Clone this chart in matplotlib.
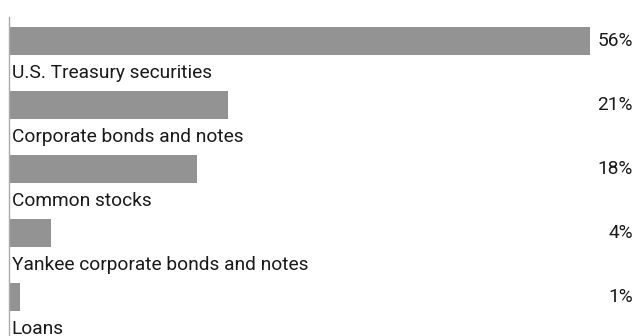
import matplotlib
matplotlib.use('Agg')
import matplotlib.pyplot as plt
import matplotlib.transforms as mtransforms

categories = ['U.S. Treasury securities', 'Corporate bonds and notes', 'Common stocks',
              'Yankee corporate bonds and notes', 'Loans']
values = [56, 21, 18, 4, 1]
labels = ['56%', '21%', '18%', '4%', '1%']

plt.rcParams['font.family'] = ['Roboto', 'DejaVu Sans']

W, H = 639, 336
fig = plt.figure(figsize=(W / 100, H / 100), dpi=100)
ax = fig.add_axes([9 / W, 0, 630 / W, 319 / H])

pos = list(range(len(values)))
ax.barh(pos, values, height=0.4375, color='#939393', left=0.1)
ax.set_xlim(0, 60.8)
ax.set_ylim(4.61, -0.375)

trans = mtransforms.blended_transform_factory(ax.transAxes, ax.transData)
for p, cat, lab in zip(pos, categories, labels):
    ax.text(0.99, p, lab, transform=trans, ha='right', va='center', fontsize=13.8, color='#1a1a1a')
    ax.text(0.004, p + 0.5, cat, transform=trans, ha='left', va='center', fontsize=13.8, color='#1a1a1a')

for s in ['top', 'right', 'bottom']:
    ax.spines[s].set_visible(False)
ax.spines['left'].set_color('#aaaaaa')
ax.spines['left'].set_linewidth(1)
ax.set_xticks([])
ax.set_yticks([])

fig.savefig('out.png', dpi=100)
